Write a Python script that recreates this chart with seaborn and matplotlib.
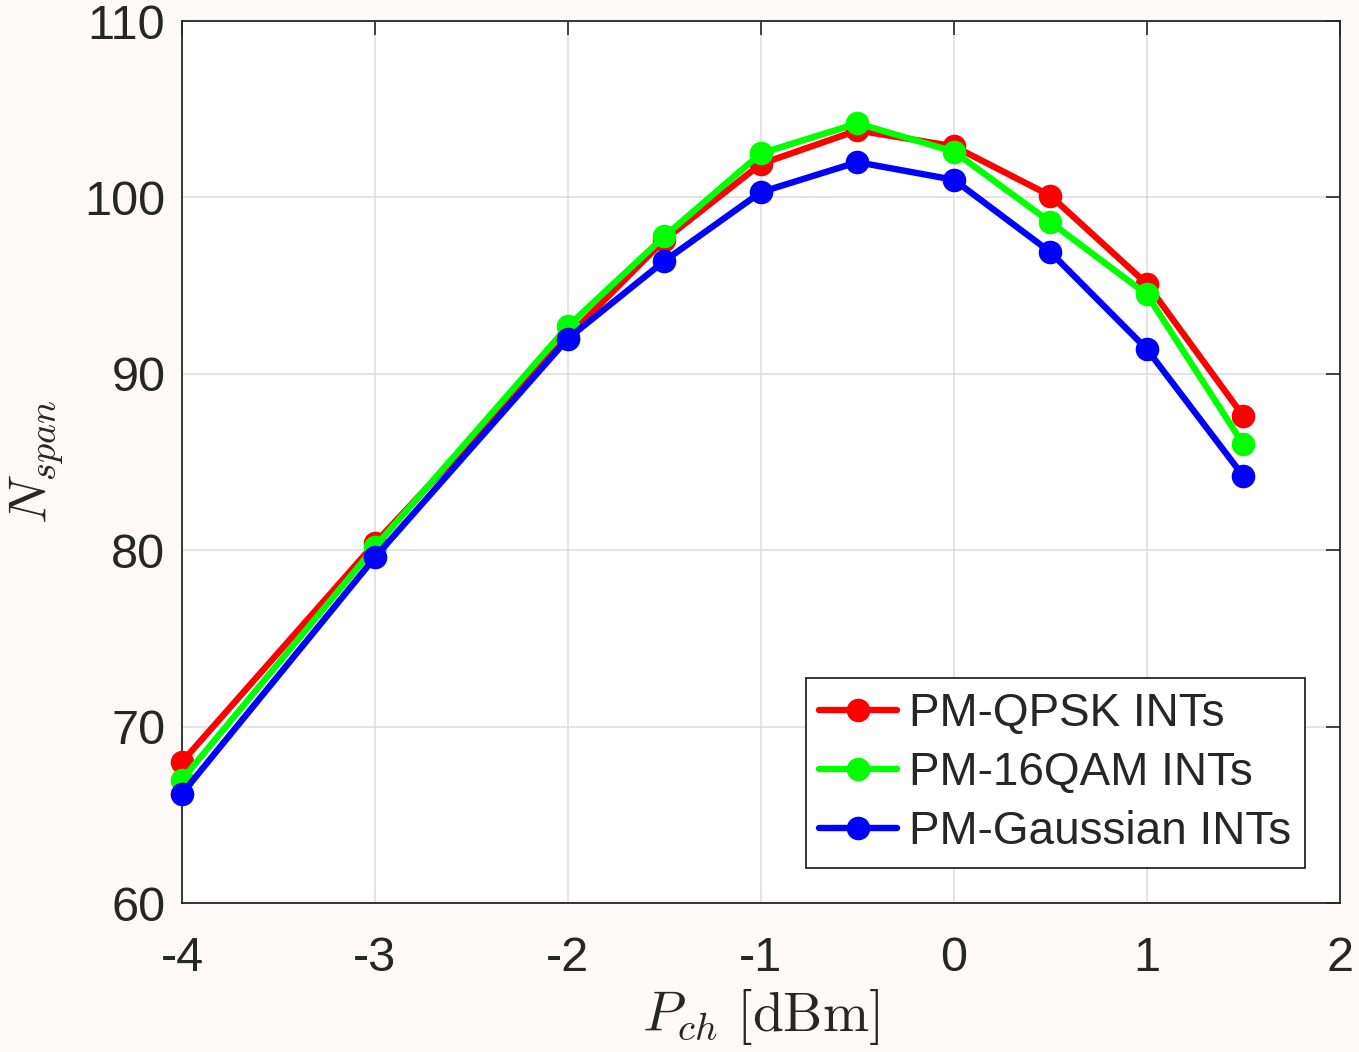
import numpy as np
import pandas as pd
import matplotlib
matplotlib.use("Agg")
import matplotlib.pyplot as plt
import seaborn as sns

p_ch = [-4, -3, -2, -1.5, -1, -0.5, 0, 0.5, 1, 1.5]
qpsk = [68.0, 80.4, 92.1, 97.6, 101.9, 103.8, 102.9, 100.1, 95.1, 87.6]
qam16 = [67.0, 80.2, 92.7, 97.8, 102.5, 104.2, 102.6, 98.6, 94.5, 86.0]
gauss = [66.2, 79.6, 92.0, 96.4, 100.3, 102.0, 101.0, 96.9, 91.4, 84.2]
labels = ["PM-QPSK INTs", "PM-16QAM INTs", "PM-Gaussian INTs"]
colors = ["#ff0000", "#00ff00", "#0000ff"]
xticks = [-4, -3, -2, -1, 0, 1, 2]
yticks = [60, 70, 80, 90, 100, 110]

df = pd.DataFrame({
    "P": p_ch * 3,
    "N": qpsk + qam16 + gauss,
    "series": sum([[l] * len(p_ch) for l in labels], []),
})

sns.set_style("white")
plt.rcParams["font.family"] = ["Liberation Sans", "DejaVu Sans"]
plt.rcParams["mathtext.fontset"] = "cm"

bg = "#fdf9f8"
fig = plt.figure(figsize=(13.59, 10.52), dpi=100, facecolor=bg)
ax = fig.add_axes([0.1339, 0.1416, 0.852, 0.8384])
ax.set_facecolor("white")

sns.lineplot(data=df, x="P", y="N", hue="series", hue_order=labels,
             palette=colors, marker="o", markersize=17, linewidth=4.6,
             markeredgewidth=0, ax=ax, zorder=3)
for ln in ax.get_lines():
    ln.set_clip_on(False)

ax.set_xlim(-4, 2)
ax.set_ylim(60, 110)
ax.set_xticks(xticks)
ax.set_yticks(yticks)
ax.set_xticklabels([str(t) for t in xticks])
ax.set_yticklabels([str(t) for t in yticks])
ax.tick_params(direction="in", length=10, width=1.2, colors="#262626",
               labelsize=35, top=True, right=True)
ax.tick_params(axis="x", pad=24)
ax.tick_params(axis="y", pad=12)
for lab in ax.get_xticklabels() + ax.get_yticklabels():
    lab.set_color("#262626")
ax.grid(True, color="#dcdcdc", linewidth=1.1)
ax.set_axisbelow(True)
for s in ax.spines.values():
    s.set_color("#262626")
    s.set_linewidth(1.3)

ax.set_xlabel(r"$P_{ch}\ [\mathrm{dBm}]$", fontsize=40, color="#262626", labelpad=4)
ax.set_ylabel(r"$N_{span}$", fontsize=39, color="#262626", labelpad=14)

leg = ax.legend(loc="lower right", fontsize=33, frameon=True, fancybox=False,
                edgecolor="#262626", framealpha=1, borderpad=0.3,
                handlelength=1.7, handletextpad=0.26, labelspacing=0.33,
                borderaxespad=0.76)
leg.get_frame().set_linewidth(1.3)
leg.set_title(None)
leg.set_zorder(5)

fig.savefig("out.png", dpi=100, facecolor=bg)
